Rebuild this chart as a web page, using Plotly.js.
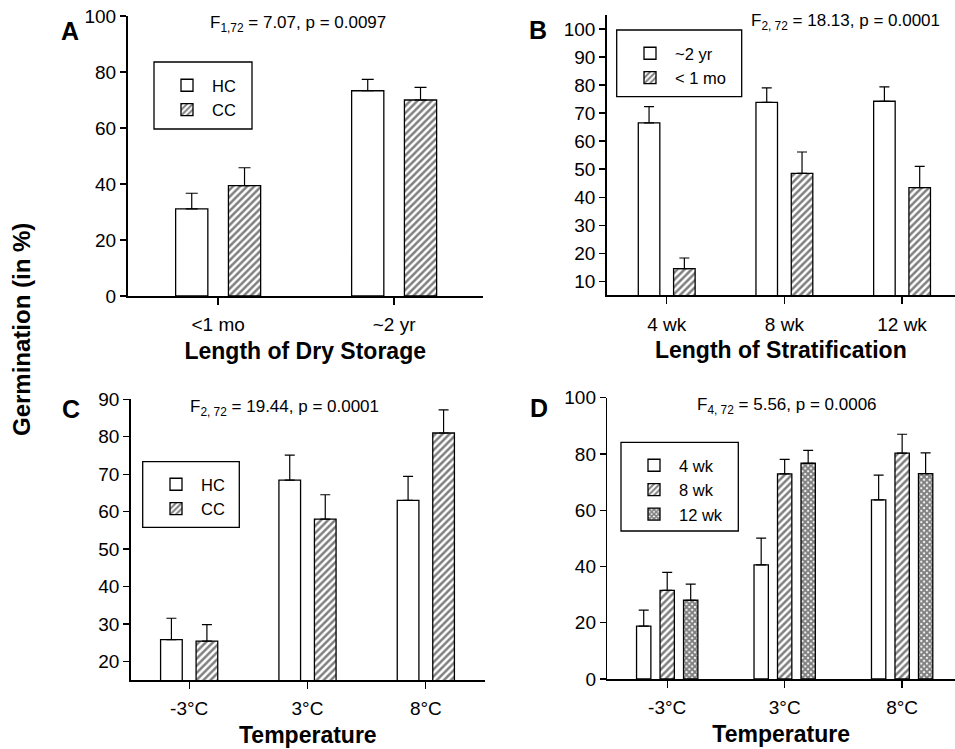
<!DOCTYPE html>
<html>
<head>
<meta charset="utf-8">
<script src="https://cdn.plot.ly/plotly-3.0.1.min.js"></script>
<style>html,body{margin:0;padding:0;background:#fff}#chart{width:955px;height:749px}</style>
</head>
<body>
<div id="chart"></div>
<script>
// ---- Data ----
// Panel A: Length of dry storage
const catsA = ['<1 mo', '~2 yr'];
const hcA = [31.1, 73.3];
const hcAerr = [5.6, 4.1];
const ccA = [39.4, 70.0];
const ccAerr = [6.4, 4.5];

// Panel B: Length of stratification
const catsB = ['4 wk', '8 wk', '12 wk'];
const yr2B = [66.5, 73.8, 74.2];
const yr2Berr = [5.8, 5.2, 5.1];
const mo1B = [14.5, 48.5, 43.4];
const mo1Berr = [3.8, 7.6, 7.6];

// Panel C: Temperature (HC vs CC)
const catsC = ['-3°C', '3°C', '8°C'];
const hcC = [25.8, 68.4, 63.0];
const hcCerr = [5.7, 6.7, 6.4];
const ccC = [25.4, 58.0, 81.0];
const ccCerr = [4.4, 6.5, 6.2];

// Panel D: Temperature (stratification length)
const catsD = ['-3°C', '3°C', '8°C'];
const wk4D = [18.8, 40.6, 63.7];
const wk4Derr = [5.7, 9.5, 8.8];
const wk8D = [31.5, 72.9, 80.3];
const wk8Derr = [6.4, 5.2, 6.7];
const wk12D = [28.0, 76.7, 73.0];
const wk12Derr = [5.7, 4.6, 7.4];

// ---- Styles ----
const FONT = 'Liberation Sans, Arial, Helvetica, sans-serif';
const plain = {color: 'white', line: {color: 'black', width: 1.3}};
const hatch = {color: 'white', line: {color: 'black', width: 1.3},
  pattern: {shape: '/', fgcolor: 'black', bgcolor: 'white', size: 5, solidity: 0.5, fillmode: 'overlay'}};
const cross = {color: 'white', line: {color: 'black', width: 1.3},
  pattern: {shape: 'x', fgcolor: 'black', bgcolor: 'white', size: 4, solidity: 0.75, fillmode: 'overlay'}};

function err(arr, w) {
  return {type: 'data', symmetric: false, array: arr, arrayminus: arr.map(() => 0),
          color: 'black', thickness: 1.2, width: w};
}
function bar(x, y, e, name, marker, ax, lg, w) {
  return {type: 'bar', x: x, y: y, name: name, marker: marker, error_y: err(e, w),
          xaxis: ax[0], yaxis: ax[1], legend: lg, hoverinfo: 'skip'};
}

const traces = [
  bar(catsA, hcA, hcAerr, 'HC', plain, ['x', 'y'], 'legend', 6),
  bar(catsA, ccA, ccAerr, 'CC', hatch, ['x', 'y'], 'legend', 6),
  bar(catsB, yr2B, yr2Berr, '~2 yr', plain, ['x2', 'y2'], 'legend2', 5),
  bar(catsB, mo1B, mo1Berr, '< 1 mo', hatch, ['x2', 'y2'], 'legend2', 5),
  bar(catsC, hcC, hcCerr, 'HC', plain, ['x3', 'y3'], 'legend3', 5),
  bar(catsC, ccC, ccCerr, 'CC', hatch, ['x3', 'y3'], 'legend3', 5),
  bar(catsD, wk4D, wk4Derr, '4 wk', plain, ['x4', 'y4'], 'legend4', 5),
  bar(catsD, wk8D, wk8Derr, '8 wk', hatch, ['x4', 'y4'], 'legend4', 5),
  bar(catsD, wk12D, wk12Derr, '12 wk', cross, ['x4', 'y4'], 'legend4', 5)
];

const W = 955, H = 749;
const px = v => v / W;
const py = v => 1 - v / H;

function xax(d0, d1, range, anchor, title) {
  return {domain: [px(d0), px(d1)], range: range, anchor: anchor, type: 'category',
    showline: true, linecolor: 'black', linewidth: 1.5, ticks: 'outside', ticklen: 7, tickwidth: 1.3,
    tickcolor: 'black', showgrid: false, zeroline: false, ticklabelstandoff: 4,
    tickfont: {family: FONT, size: 19, color: 'black'}, fixedrange: true,
    title: {text: title, standoff: 8, font: {family: FONT, size: 23, color: 'black', weight: 'bold'}}};
}
function yax(b, t, range, anchor, tick0, dtick) {
  return {domain: [py(b), py(t)], range: range, anchor: anchor,
    showline: true, linecolor: 'black', linewidth: 1.5, ticks: 'outside', ticklen: 6, tickwidth: 1.3,
    tickcolor: 'black', showgrid: false, zeroline: false, tick0: tick0, dtick: dtick,
    tickfont: {family: FONT, size: 19, color: 'black'}, fixedrange: true};
}
function leg(x, y) {
  return {x: px(x), y: py(y), xanchor: 'left', yanchor: 'top', bgcolor: 'rgba(0,0,0,0)',
    borderwidth: 0, font: {family: FONT, size: 16.5, color: 'black'}, traceorder: 'normal',
    itemclick: false, itemdoubleclick: false, itemwidth: 40};
}
function frame(x0, y0, x1, y1) {
  return {type: 'rect', xref: 'paper', yref: 'paper', x0: px(x0), x1: px(x1), y0: py(y0), y1: py(y1),
    line: {color: 'black', width: 1.3}, fillcolor: 'white', layer: 'below'};
}
function note(x, y, text, size, bold) {
  return {xref: 'paper', yref: 'paper', x: px(x), y: py(y), text: text, showarrow: false,
    xanchor: 'center', yanchor: 'middle',
    font: {family: FONT, size: size, color: 'black', weight: bold ? 'bold' : 'normal'}};
}

const layout = {
  width: W, height: H, margin: {l: 0, r: 0, t: 0, b: 0},
  paper_bgcolor: 'white', plot_bgcolor: 'rgba(0,0,0,0)',
  barmode: 'group', bargap: 0.4, bargroupgap: 0.39,
  font: {family: FONT, color: 'black'},
  xaxis: xax(127.5, 483, [-0.515, 1.505], 'y', 'Length of Dry Storage'),
  yaxis: yax(296, 16, [0, 100], 'x', 0, 20),
  xaxis2: xax(606.7, 955, [-0.51, 2.45], 'y2', 'Length of Stratification'),
  yaxis2: yax(295.3, 14.9, [5, 105], 'x2', 10, 10),
  xaxis3: xax(130.7, 485, [-0.494, 2.5], 'y3', 'Temperature'),
  yaxis3: yax(680, 399.3, [15, 90], 'x3', 20, 10),
  xaxis4: xax(607.3, 955, [-0.51, 2.45], 'y4', 'Temperature'),
  yaxis4: yax(679, 397.7, [0, 100], 'x4', 0, 20),
  legend: leg(162, 68),
  legend2: leg(625, 36),
  legend3: leg(151, 467),
  legend4: leg(629, 448),
  shapes: [
    frame(154, 62, 252, 129),
    frame(616.7, 30, 741.7, 96.7),
    frame(142.7, 461.7, 239.3, 527.3),
    frame(621, 442.3, 738.3, 531)
  ],
  annotations: [
    note(298, 24, 'F<sub>1,72</sub> = 7.07, p = 0.0097', 17, false),
    note(845, 22, 'F<sub>2, 72</sub> = 18.13, p = 0.0001', 17, false),
    note(284, 408, 'F<sub>2, 72</sub> = 19.44, p = 0.0001', 17, false),
    note(787, 406, 'F<sub>4, 72</sub> = 5.56, p = 0.0006', 17, false),
    note(70, 31, 'A', 25, true),
    note(538, 30, 'B', 25, true),
    note(71, 409, 'C', 25, true),
    note(539, 408, 'D', 25, true),
    Object.assign(note(22, 330, 'Germination (in %)', 24, true), {textangle: -90})
  ]
};

Plotly.newPlot('chart', traces, layout, {displayModeBar: false, staticPlot: true});
</script>
</body>
</html>
